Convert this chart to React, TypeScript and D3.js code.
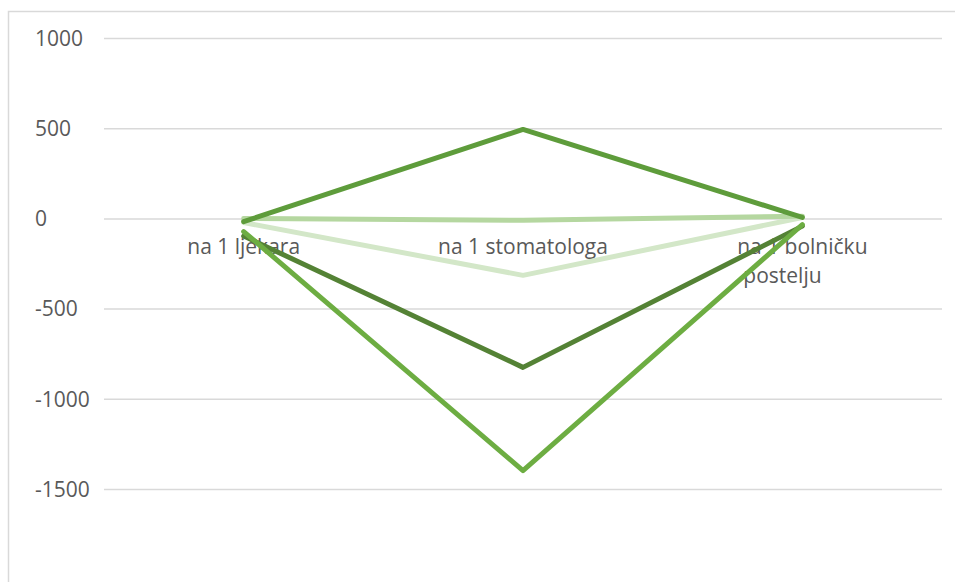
import React from "react";
import * as d3 from "d3";

const categories: string[][] = [["na 1 ljekara"], ["na 1 stomatologa"], ["na 1 bolničku", "postelju"]];
const seriesA: number[] = [-15, 496, 8];
const seriesB: number[] = [2, -8, 15];
const seriesC: number[] = [-20, -313, 8];
const seriesD: number[] = [-95, -823, -40];
const seriesE: number[] = [-70, -1395, -32];
const yTicks: number[] = [1000, 500, 0, -500, -1000, -1500];

const seriesList = [
  { values: seriesC, color: "#D3E7C8" },
  { values: seriesB, color: "#B5D7A0" },
  { values: seriesD, color: "#548235" },
  { values: seriesE, color: "#6DAD42" },
  { values: seriesA, color: "#5E9C3B" },
];

export default function App() {
  const W = 955, H = 582;
  const left = 104, right = 942;
  const x = d3.scaleBand<number>().domain(categories.map((_, i) => i)).range([left, right]);
  const y = d3.scaleLinear().domain([-1500, 1000]).range([489.5, 38.5]);
  const cx = (i: number) => (x(i) as number) + x.bandwidth() / 2;
  const line = d3
    .line<number>()
    .x((_, i) => cx(i))
    .y((d) => y(d));
  const font = "'Open Sans', sans-serif";
  return (
    <svg width={W} height={H} style={{ position: "absolute", left: 0, top: 0 }}>
      <rect x={0} y={0} width={W} height={H} fill="#fff" />
      <rect x={8.5} y={11.5} width={1000} height={700} fill="#fff" stroke="#d9d9d9" strokeWidth={1.5} />
      {yTicks.map((t) => (
        <g key={t}>
          <line x1={left} x2={right} y1={y(t)} y2={y(t)} stroke="#d9d9d9" strokeWidth={1.5} />
          <text x={35} y={y(t)} dy="0.35em" fontFamily={font} fontSize={21} fill="#595959">
            {t}
          </text>
        </g>
      ))}
      {categories.map((c, i) =>
        c.map((ln, j) => (
          <text
            key={i + "-" + j}
            x={j === 0 ? cx(i) : cx(i) - 59}
            y={247 + j * 29}
            dy="0.35em"
            textAnchor={j === 0 ? "middle" : "start"}
            fontFamily={font}
            fontSize={21}
            fill="#595959"
          >
            {ln}
          </text>
        ))
      )}
      {seriesList.map((s, i) => (
        <path key={i} d={line(s.values) as string} fill="none" stroke={s.color} strokeWidth={5} strokeLinejoin="round" strokeLinecap="round" />
      ))}
    </svg>
  );
}
